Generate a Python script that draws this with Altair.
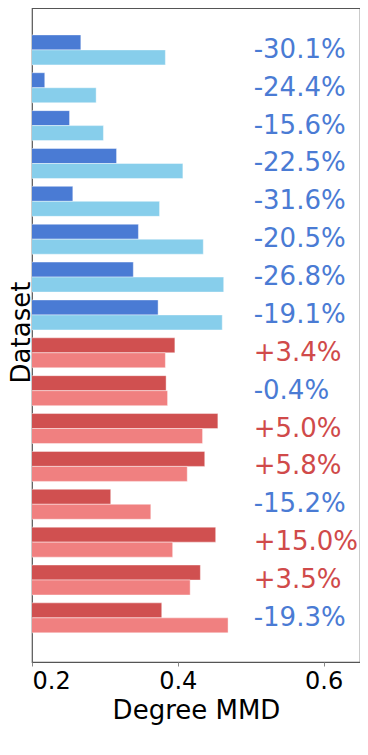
import altair as alt
import pandas as pd

groups = [f"G{i+1}" for i in range(16)]
family = ["blue"] * 8 + ["red"] * 8
ours = [0.267, 0.2175, 0.2515, 0.316, 0.256, 0.346, 0.339, 0.373,
        0.396, 0.384, 0.455, 0.437, 0.308, 0.452, 0.431, 0.378]
base = [0.383, 0.288, 0.298, 0.407, 0.375, 0.435, 0.463, 0.461,
        0.383, 0.386, 0.434, 0.413, 0.363, 0.393, 0.417, 0.469]
labels = ["-30.1%", "-24.4%", "-15.6%", "-22.5%", "-31.6%", "-20.5%", "-26.8%", "-19.1%",
          "+3.4%", "-0.4%", "+5.0%", "+5.8%", "-15.2%", "+15.0%", "+3.5%", "-19.3%"]

rows = []
for g, f, a, b in zip(groups, family, ours, base):
    rows.append({"group": g, "series": "a", "kind": f + "_dark", "value": a})
    rows.append({"group": g, "series": "b", "kind": f + "_light", "value": b})
bars_df = pd.DataFrame(rows)

text_df = pd.DataFrame({
    "group": groups,
    "label": labels,
    "sign": ["neg" if s.startswith("-") else "pos" for s in labels],
})

y_scale = alt.Scale(paddingInner=0.208, paddingOuter=0.74, align=0.48)

bars = alt.Chart(bars_df).mark_bar(clip=True, stroke="white", strokeWidth=0.6, strokeOpacity=0.7).encode(
    x=alt.X("value:Q",
            scale=alt.Scale(domain=[0.2, 0.65], zero=False, nice=False),
            axis=alt.Axis(values=[0.2, 0.4, 0.6], format=".1f", title="Degree MMD",
                          domain=False, grid=False, tickColor="#888", tickSize=4,
                          labelFontSize=24, labelPadding=3, labelColor="black",
                          titleFontSize=26, titleFontWeight="normal", titleColor="black",
                          titlePadding=4)),
    y=alt.Y("group:N", sort=groups, scale=y_scale,
            axis=alt.Axis(title="Dataset", labels=False, ticks=False, domain=False, grid=False,
                          titleFontSize=26, titleFontWeight="normal", titleColor="black",
                          titleX=-3, titleY=324, titleAngle=270, titleAlign="center",
                          titleBaseline="alphabetic")),
    yOffset=alt.YOffset("series:N", sort=["a", "b"], scale=alt.Scale(paddingInner=0, paddingOuter=0)),
    color=alt.Color("kind:N",
                    scale=alt.Scale(domain=["blue_dark", "blue_light", "red_dark", "red_light"],
                                    range=["#4a7bd4", "#87ceeb", "#d05050", "#f08080"]),
                    legend=None),
)

texts = alt.Chart(text_df).mark_text(align="left", baseline="middle", fontSize=26, font="DejaVu Sans",
                                     dx=3).encode(
    x=alt.datum(0.5),
    y=alt.Y("group:N", sort=groups, scale=y_scale),
    text="label:N",
    color=alt.Color("sign:N", scale=alt.Scale(domain=["neg", "pos"], range=["#4a7bd4", "#d04a4a"]),
                    legend=None),
)

chart = alt.layer(bars, texts).resolve_scale(color="independent").properties(
    width=328, height=654,
    autosize=alt.AutoSizeParams(type="none"),
    padding={"left": 24, "top": 0, "right": 0, "bottom": 85},
).configure(font="DejaVu Sans").configure_view(stroke="#555", strokeWidth=1.2)

chart.save("out.html", embed_options={"renderer": "svg", "actions": False})
